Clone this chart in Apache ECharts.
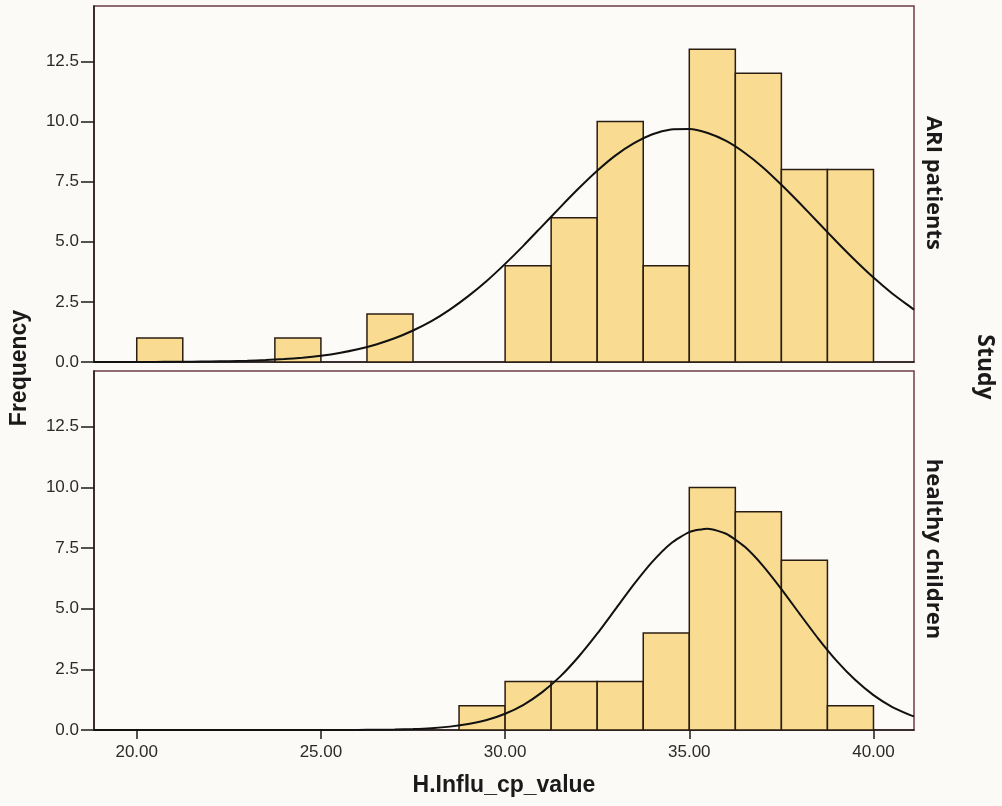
<!DOCTYPE html>
<html>
<head>
<meta charset="utf-8">
<script src="https://cdn.jsdelivr.net/npm/echarts@6/dist/echarts.min.js"></script>
<style>
html,body{margin:0;padding:0;background:#fcfaf6;}
#chart{width:1002px;height:806px;}
</style>
</head>
<body>
<div id="chart"></div>
<script>
// ---- data ----
var binWidth = 1.25;
var binStarts = [20, 21.25, 22.5, 23.75, 25, 26.25, 27.5, 28.75, 30, 31.25, 32.5, 33.75, 35, 36.25, 37.5, 38.75];
var ariCounts = [1, 0, 0, 1, 0, 2, 0, 0, 4, 6, 10, 4, 13, 12, 8, 8];
var healthyCounts = [0, 0, 0, 0, 0, 0, 0, 1, 2, 2, 2, 4, 10, 9, 7, 1];

var curveX = [18.84, 19, 19.5, 20, 20.5, 21, 21.5, 22, 22.5, 23, 23.5, 24, 24.5, 25, 25.5, 26, 26.5, 27, 27.5, 28, 28.5, 29, 29.5,
  30, 30.5, 31, 31.5, 32, 32.5, 33, 33.5, 34, 34.5, 35, 35.5, 36, 36.5, 37, 37.5, 38, 38.5, 39, 39.5, 40, 40.5, 41, 41.1];
var ariCurve = [0.0006, 0.0008, 0.0015, 0.0026, 0.0044, 0.0075, 0.0125, 0.0205, 0.033, 0.052, 0.080, 0.121, 0.18, 0.262, 0.375, 0.528, 0.73, 0.985, 1.31, 1.70, 2.18, 2.74, 3.37,
  4.08, 4.84, 5.64, 6.44, 7.22, 7.95, 8.59, 9.10, 9.47, 9.67, 9.69, 9.52, 9.19, 8.70, 8.09, 7.37, 6.60, 5.80, 5.00, 4.23, 3.51, 2.86, 2.29, 2.18];
var healthyCurve = [0, 0, 0, 0, 0, 0, 0, 0, 0, 0.00002, 0.00005, 0.0001, 0.0003, 0.0008, 0.0019, 0.0043, 0.009, 0.0196, 0.039, 0.075, 0.139, 0.244, 0.41,
  0.67, 1.04, 1.55, 2.21, 3.03, 3.97, 4.99, 6.01, 6.94, 7.69, 8.16, 8.30, 8.09, 7.56, 6.77, 5.81, 4.78, 3.77, 2.85, 2.07, 1.44, 0.957, 0.61, 0.56];

var xTicks = [20, 25, 30, 35, 40];
var yTicks = [0, 2.5, 5, 7.5, 10, 12.5];
var panelLabels = ['ARI patients', 'healthy children'];

// ---- build ----
function barData(counts) {
  return binStarts.map(function (s, i) { return [s, s + binWidth, counts[i]]; })
    .filter(function (d) { return d[2] > 0; });
}
function curveData(vals) {
  return curveX.map(function (x, i) { return [x, vals[i]]; });
}
function renderBar(params, api) {
  var p0 = api.coord([api.value(0), 0]);
  var p1 = api.coord([api.value(1), api.value(2)]);
  return {
    type: 'rect',
    shape: { x: p0[0], y: p1[1], width: p1[0] - p0[0], height: p0[1] - p1[1] },
    style: { fill: '#f9dc92', stroke: '#2b1d12', lineWidth: 1.5 }
  };
}
var font = 'Liberation Sans, Arial, sans-serif';
function xAxis(idx, show) {
  return {
    type: 'value', gridIndex: idx, min: 18.84, max: 41.1,
    splitLine: { show: false },
    axisLine: { show: true, onZero: false, lineStyle: { color: '#1e1a18', width: 1.5 } },
    axisTick: { show: show, length: 9, customValues: xTicks, lineStyle: { color: '#1e1a18', width: 1.5 } },
    axisLabel: { show: show, customValues: xTicks, margin: 14, fontSize: 17, fontFamily: font, color: '#2a2a2a',
      formatter: function (v) { return v.toFixed(2); } }
  };
}
function yAxis(idx) {
  return {
    type: 'value', gridIndex: idx, min: 0, max: 14.8,
    splitLine: { show: false },
    axisLine: { show: true, lineStyle: { color: '#1e1a18', width: 1.5 } },
    axisTick: { show: true, length: 13, customValues: yTicks, lineStyle: { color: '#1e1a18', width: 1.5 } },
    axisLabel: { customValues: yTicks, margin: 15, fontSize: 17, fontFamily: font, color: '#2a2a2a',
      formatter: function (v) { return v.toFixed(1); } }
  };
}

var chart = echarts.init(document.getElementById('chart'));
chart.setOption({
  backgroundColor: '#fcfaf6',
  animation: false,
  grid: [
    { left: 94, top: 6, width: 820, height: 356, show: true, borderColor: '#6e3b47', borderWidth: 1.5, backgroundColor: '#fdfbf8' },
    { left: 94, top: 371, width: 820, height: 359, show: true, borderColor: '#6e3b47', borderWidth: 1.5, backgroundColor: '#fdfbf8' }
  ],
  xAxis: [xAxis(0, false), xAxis(1, true)],
  yAxis: [yAxis(0), yAxis(1)],
  series: [
    { type: 'custom', xAxisIndex: 0, yAxisIndex: 0, renderItem: renderBar, encode: { x: [0, 1], y: 2 }, data: barData(ariCounts), z: 2 },
    { type: 'line', xAxisIndex: 0, yAxisIndex: 0, data: curveData(ariCurve), smooth: 0.2, showSymbol: false, lineStyle: { color: '#111', width: 2 }, z: 3 },
    { type: 'custom', xAxisIndex: 1, yAxisIndex: 1, renderItem: renderBar, encode: { x: [0, 1], y: 2 }, data: barData(healthyCounts), z: 2 },
    { type: 'line', xAxisIndex: 1, yAxisIndex: 1, data: curveData(healthyCurve), smooth: 0.2, showSymbol: false, lineStyle: { color: '#111', width: 2 }, z: 3 }
  ],
  graphic: [
    { type: 'text', x: 20, y: 368, rotation: Math.PI / 2, style: { text: 'Frequency', font: 'bold 23px ' + font, fill: '#1a1a1a', align: 'center', verticalAlign: 'middle' } },
    { type: 'text', x: 504, y: 786, style: { text: 'H.Influ_cp_value', font: 'bold 23px ' + font, fill: '#1a1a1a', align: 'center', verticalAlign: 'middle' } },
    { type: 'text', x: 985, y: 367, rotation: -Math.PI / 2, style: { text: 'Study', font: 'bold 23px "Open Sans", sans-serif', fill: '#1a1a1a', align: 'center', verticalAlign: 'middle' } },
    { type: 'text', x: 933, y: 183, rotation: -Math.PI / 2, style: { text: panelLabels[0], font: 'bold 22px "Open Sans", sans-serif', fill: '#1a1a1a', align: 'center', verticalAlign: 'middle' } },
    { type: 'text', x: 933, y: 549, rotation: -Math.PI / 2, style: { text: panelLabels[1], font: 'bold 22px "Open Sans", sans-serif', fill: '#1a1a1a', align: 'center', verticalAlign: 'middle' } }
  ]
});
</script>
</body>
</html>
